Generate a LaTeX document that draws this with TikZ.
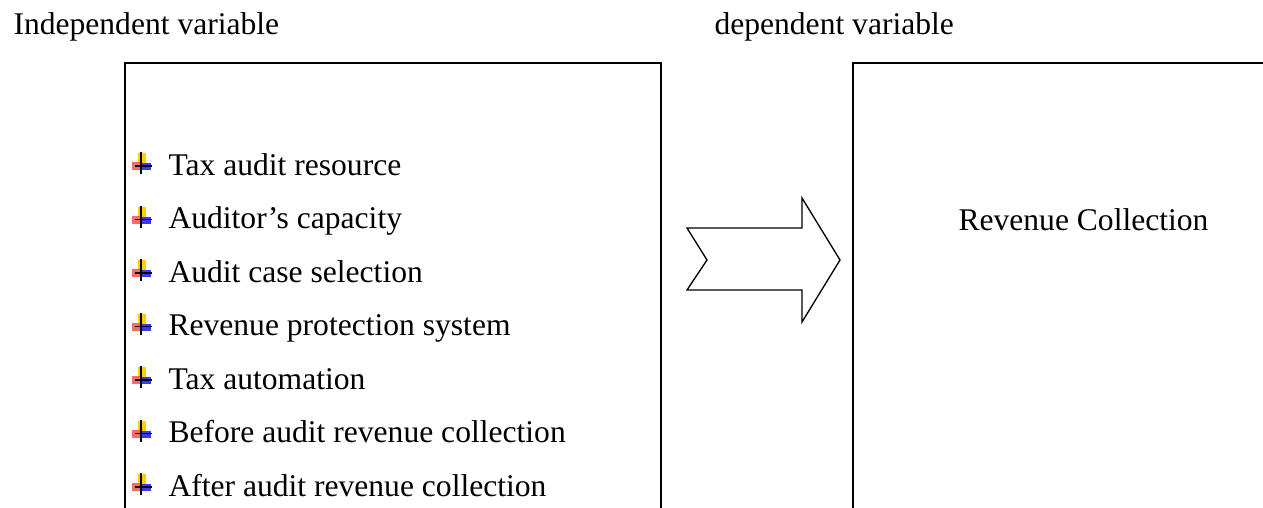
\documentclass[tikz,border=0pt]{standalone}
\usepackage{fontspec}
\setmainfont{Liberation Serif}
\usepackage{tikz}
\usetikzlibrary{calc}
\definecolor{jaune}{HTML}{FFD000}
\definecolor{rouge}{HTML}{F03C3C}
\definecolor{bleu}{HTML}{1818FF}
\tikzset{cadre/.style={
    draw=black,
    line width=0.7pt}}
\tikzset{fleche/.style={
    draw=black,
    line width=0.5pt,
    line join=miter}}
\tikzset{titre/.style={
    anchor=base west,
    inner sep=0pt,
    font=\fontsize{12}{14}\selectfont}}
\tikzset{puce/.pic={
    \fill[jaune] (-3,-13) rectangle (5,-3);
    \fill[rouge,opacity=0.75] (-9,-4) rectangle (-1,4);
    \fill[bleu,opacity=0.85] (-1,-3) rectangle (10,4);
    \draw[black,line width=0.6pt] (0,-14) -- (0,8) (-6,0) -- (11,0);}}

\begin{document}
\begin{tikzpicture}[x=0.38pt,y=-0.38pt]
\useasboundingbox (0,0) rectangle (1263,508);
\coordinate (GA) at (125,540);
\coordinate (GB) at (125,63);
\coordinate (GC) at (661,63);
\coordinate (GD) at (661,540);
\coordinate (DA) at (853,540);
\coordinate (DB) at (853,63);
\coordinate (DC) at (1290,63);

\node[titre] (tindep) at (13,35) {Independent variable};
\node[titre] (tdep) at (714,35) {dependent variable};

\path[cadre] (GA) -- (GB) -- (GC) -- (GD);
\path[cadre] (DA) -- (DB) -- (DC);

\foreach \texte [count=\i] in {Tax audit resource,Auditor’s capacity,Audit case selection,Revenue protection system,Tax automation,Before audit revenue collection,After audit revenue collection}{
  \pgfmathsetmacro{\yb}{175+(\i-1)*53.5}
  \pic at (141,\yb-9) {puce};
  \node[titre] (item\i) at (168,\yb) {\texte};
}

\node[titre] (revenue) at (958,230) {Revenue Collection};

\path[fleche] (687,228) -- (802,228) -- (802,198) -- (840,260) -- (802,322)
  -- (802,290) -- (687,290) -- (707,260) -- cycle;
\end{tikzpicture}
\end{document}
